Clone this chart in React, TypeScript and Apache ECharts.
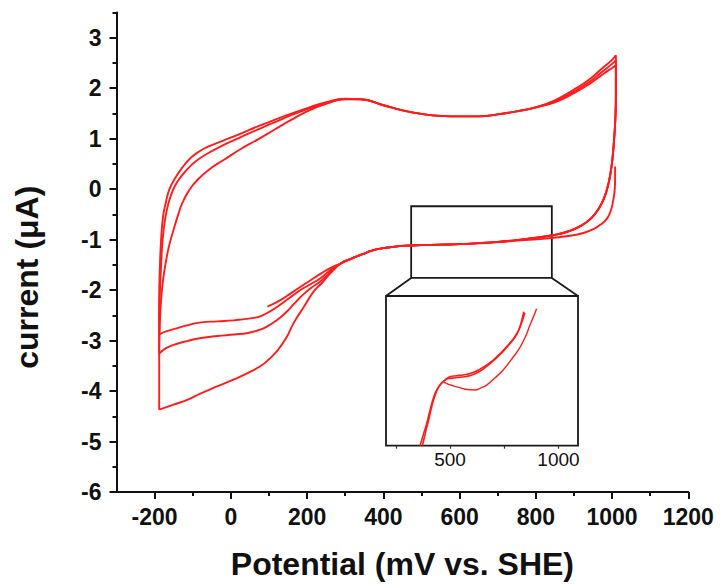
import React, { useEffect, useRef } from 'react';
import * as echarts from 'echarts';

// ---------- tick values ----------
const xMajorTicks = [-200, 0, 200, 400, 600, 800, 1000, 1200];
const xMinorTicks = [-100, 100, 300, 500, 700, 900, 1100];
const yMajorTicks = [-6, -5, -4, -3, -2, -1, 0, 1, 2, 3];
const yMinorTicks = [-5.5, -4.5, -3.5, -2.5, -1.5, -0.5, 0.5, 1.5, 2.5, 3.5];
const insetTicks = [250, 500, 750, 1000];
const insetLabels = [500, 1000];

// ---------- CV branches [potential mV, current uA] ----------
// first cathodic sweep start (from upper vertex, inner curve)
const innerDescent = [
  [1008, 0.45], [1008, 0.2], [1007, -0.01], [1003, -0.22], [997, -0.42], [987, -0.58],
  [972, -0.69], [952, -0.79], [925, -0.87], [885, -0.93], [838, -0.97], [794, -1.0],
  [750, -1.02], [707, -1.05], [650, -1.075], [600, -1.09], [550, -1.1], [500, -1.11], [460, -1.12],
];
// later cathodic sweeps (outer curve at right)
const outerDescent = [
  [1010, 1.8], [1008, 1.3], [1005, 0.95], [1001, 0.6], [996, 0.32], [989, 0.06], [979, -0.18],
  [964, -0.4], [945, -0.58], [918, -0.73], [884, -0.84], [840, -0.92], [794, -0.97],
  [750, -1.01], [707, -1.04], [650, -1.07], [600, -1.09], [550, -1.1], [500, -1.11], [460, -1.12],
];
const lowerMid = [[430, -1.14], [400, -1.17], [370, -1.22], [342, -1.3], [315, -1.38], [289, -1.47]];
const lowerD = [
  [289, -1.47], [262, -1.66], [240, -1.85], [218, -2.02], [190, -2.35], [165, -2.65], [145, -2.95],
  [122, -3.2], [100, -3.37], [79, -3.5], [45, -3.64], [8, -3.77], [-40, -3.92], [-80, -4.05],
  [-113, -4.17], [-150, -4.27], [-188, -4.37],
];
const lowerC = [
  [289, -1.47], [262, -1.64], [236, -1.82], [210, -1.96], [188, -2.1], [166, -2.27], [145, -2.44],
  [122, -2.59], [100, -2.7], [79, -2.78], [45, -2.85], [9, -2.88], [-35, -2.91], [-78, -2.95],
  [-115, -3.01], [-148, -3.08], [-170, -3.15], [-188, -3.26],
];
const lowerB = [
  [289, -1.47], [262, -1.6], [236, -1.76], [210, -1.88], [184, -1.99], [160, -2.12], [140, -2.23],
  [118, -2.35], [96, -2.45], [80, -2.51], [61, -2.55], [30, -2.58], [8, -2.6], [-35, -2.62],
  [-78, -2.64], [-115, -2.7], [-148, -2.77], [-170, -2.82], [-188, -2.88],
];
const lowerA = [
  [289, -1.47], [262, -1.56], [237, -1.67], [210, -1.8], [184, -1.93], [160, -2.05], [130, -2.2], [96, -2.33],
];
// anodic sweeps
const upperLeft1 = [
  [-188, -4.37], [-188, -3.3], [-186, -2.6], [-182, -2.1], [-176, -1.7], [-170, -1.42], [-162, -1.12],
  [-152, -0.85], [-140, -0.55], [-127, -0.27], [-110, -0.03], [-88, 0.18], [-55, 0.4], [-18, 0.58],
  [25, 0.79], [70, 0.98], [115, 1.18], [158, 1.37], [200, 1.54], [250, 1.69], [300, 1.78],
];
const upperLeft2 = [
  [-188, -3.26], [-188, -2.5], [-186, -2.0], [-183, -1.5], [-179, -1.0], [-173, -0.62], [-165, -0.32],
  [-154, -0.06], [-140, 0.15], [-118, 0.36], [-92, 0.55], [-60, 0.71], [-20, 0.87], [26, 1.03],
  [70, 1.18], [114, 1.32], [160, 1.47], [210, 1.61], [250, 1.7], [300, 1.785],
];
const upperLeft3 = [
  [-188, -2.88], [-188, -2.2], [-186, -1.5], [-183, -1.0], [-178, -0.55], [-171, -0.28], [-162, -0.02],
  [-149, 0.18], [-128, 0.42], [-105, 0.62], [-80, 0.76], [-60, 0.84], [-20, 0.96], [26, 1.1],
  [70, 1.24], [114, 1.37], [160, 1.5], [210, 1.63], [250, 1.72], [300, 1.79],
];
const upperMid = [
  [340, 1.78], [400, 1.66], [450, 1.56], [500, 1.49], [550, 1.45], [600, 1.44], [650, 1.44],
  [700, 1.48], [750, 1.54], [800, 1.62],
];
const upperTop1 = [[850, 1.72], [900, 1.9], [940, 2.08], [975, 2.27], [1000, 2.4], [1010, 2.45]];
const upperTop2 = [[850, 1.74], [900, 1.93], [940, 2.12], [975, 2.33], [1000, 2.48], [1010, 2.55]];
const upperTop3 = [[850, 1.76], [900, 1.97], [940, 2.17], [975, 2.4], [1000, 2.56], [1010, 2.65]];

// zoomed region marked in the main plot
const zoomBoxX = [473, 842];
const zoomBoxY = [-1.76, -0.34];

// ---------- inset (magnified) ----------
const insetMain = [
  [362, -1.3], [380, -1.265], [393, -1.24], [405, -1.212], [416, -1.187], [428, -1.165], [439, -1.151],
  [455, -1.137], [469, -1.129], [485, -1.122], [500, -1.12], [520, -1.119], [546, -1.117], [575, -1.115],
  [607, -1.11], [640, -1.1], [669, -1.088], [700, -1.073], [730, -1.057], [760, -1.038], [791, -1.017],
  [810, -1.0], [822, -0.982], [832, -0.962], [840, -0.942],
];
const insetMain2 = [
  [373, -1.3], [388, -1.262], [400, -1.235], [412, -1.205], [424, -1.178], [436, -1.158], [448, -1.143],
  [462, -1.132], [478, -1.124], [500, -1.116], [530, -1.113], [560, -1.111], [600, -1.106], [640, -1.095],
  [680, -1.08], [720, -1.06], [760, -1.036], [795, -1.012], [815, -0.993], [830, -0.972], [845, -0.945],
];
const insetLower = [
  [469, -1.129], [485, -1.134], [515, -1.14], [546, -1.145], [580, -1.15], [615, -1.151], [640, -1.146],
  [669, -1.138], [705, -1.12], [746, -1.097], [785, -1.068], [822, -1.038], [848, -1.008], [868, -0.979],
  [885, -0.955], [899, -0.934],
];

const RED = '#ff1c1c';
const FONT = '"Liberation Sans", Arial, Helvetica, sans-serif';

export default function App() {
  const ref = useRef<HTMLDivElement>(null);

  useEffect(() => {
    if (!ref.current) return;
    const chart = echarts.init(ref.current, undefined, { renderer: 'svg' });

    const lastOf = (a: number[][]) => a[a.length - 1];
    const paths = [
      [...innerDescent, ...lowerMid, ...lowerD.slice(1)],
      [...upperLeft1, ...upperMid, ...upperTop1],
      [lastOf(upperTop1), ...outerDescent, ...lowerMid, ...lowerC.slice(1)],
      [...upperLeft2, ...upperMid, ...upperTop2],
      [lastOf(upperTop2), ...outerDescent, ...lowerMid, ...lowerB.slice(1)],
      [...upperLeft3, ...upperMid, ...upperTop3],
      [lastOf(upperTop3), ...outerDescent, ...lowerMid, ...lowerA.slice(1)],
    ];

    const mainSeries: any[] = paths.map((d, i) => ({
      type: 'line',
      xAxisIndex: 0,
      yAxisIndex: 0,
      data: d,
      showSymbol: false,
      smooth: 0.5,
      lineStyle: { color: RED, width: 1.9 },
      silent: true,
      z: 3,
      ...(i === 0
        ? {
            markArea: {
              silent: true,
              itemStyle: { color: 'rgba(0,0,0,0)', borderColor: '#1a1a1a', borderWidth: 1.8 },
              label: { show: false },
              data: [[{ coord: [zoomBoxX[0], zoomBoxY[1]] }, { coord: [zoomBoxX[1], zoomBoxY[0]] }]],
            },
          }
        : {}),
    }));

    const insetSeries = [insetMain, insetMain2, insetLower].map((d, i) => ({
      type: 'line',
      xAxisIndex: 2,
      yAxisIndex: 2,
      data: d,
      showSymbol: false,
      smooth: 0.5,
      lineStyle: { color: RED, width: i === 2 ? 1.4 : 1.6 },
      silent: true,
    }));

    const axisCommon = {
      type: 'value',
      splitLine: { show: false },
    };

    chart.setOption({
      animation: false,
      backgroundColor: '#ffffff',
      grid: [
        { left: 116.5, top: 12.4, width: 571.8, height: 479.9, containLabel: false },
        {
          left: 386, top: 296, width: 192, height: 149.7, show: true,
          borderColor: '#1a1a1a', borderWidth: 1.8, backgroundColor: 'rgba(0,0,0,0)',
        },
      ],
      xAxis: [
        {
          ...axisCommon,
          gridIndex: 0,
          position: 'bottom',
          min: -300,
          max: 1200,
          axisLine: { onZero: false, lineStyle: { color: '#111', width: 2 } },
          axisTick: { customValues: xMajorTicks, length: 7, lineStyle: { color: '#111', width: 2 } },
          axisLabel: {
            customValues: xMajorTicks,
            formatter: (v: number) => String(v),
            fontSize: 23, fontWeight: 'bold', color: '#111', fontFamily: FONT, margin: 13,
          },
          name: 'Potential (mV vs. SHE)',
          nameLocation: 'middle',
          nameGap: 56,
          nameTextStyle: { fontSize: 32, fontWeight: 'bold', color: '#111', fontFamily: FONT },
        },
        {
          ...axisCommon,
          gridIndex: 0,
          position: 'bottom',
          offset: 0,
          min: -300,
          max: 1200,
          axisLine: { show: false, onZero: false },
          axisTick: { customValues: xMinorTicks, length: 4, lineStyle: { color: '#111', width: 2 } },
          axisLabel: { show: false },
        },
        {
          ...axisCommon,
          gridIndex: 1,
          position: 'bottom',
          min: 205,
          max: 1090,
          axisLine: { show: false, onZero: false },
          axisTick: { customValues: insetTicks, length: 3, lineStyle: { color: '#333', width: 1.2 } },
          axisLabel: {
            customValues: insetLabels,
            formatter: (v: number) => String(v),
            fontSize: 19, color: '#111', fontFamily: FONT, margin: 4,
          },
        },
      ],
      yAxis: [
        {
          ...axisCommon,
          gridIndex: 0,
          position: 'left',
          min: -6,
          max: 3.5,
          axisLine: { onZero: false, lineStyle: { color: '#111', width: 2 } },
          axisTick: { customValues: yMajorTicks, length: 7, lineStyle: { color: '#111', width: 2 } },
          axisLabel: {
            customValues: yMajorTicks,
            formatter: (v: number) => String(v),
            fontSize: 23, fontWeight: 'bold', color: '#111', fontFamily: FONT, margin: 15,
          },
          name: 'current (\u03bcA)',
          nameLocation: 'middle',
          nameGap: 74,
          nameTextStyle: {
            fontSize: 32, fontWeight: 'bold', color: '#111', fontFamily: FONT,
            padding: [0, 50, 0, 0],
          },
        },
        {
          ...axisCommon,
          gridIndex: 0,
          position: 'left',
          offset: 0,
          min: -6,
          max: 3.5,
          axisLine: { show: false, onZero: false },
          axisTick: { customValues: yMinorTicks, length: 4, lineStyle: { color: '#111', width: 2 } },
          axisLabel: { show: false },
        },
        {
          ...axisCommon,
          gridIndex: 1,
          min: -1.3,
          max: -0.9,
          show: false,
        },
      ],
      series: [...mainSeries, ...insetSeries],
    });

    // connectors from the marked region to the inset frame
    const a = chart.convertToPixel({ xAxisIndex: 0, yAxisIndex: 0 }, [zoomBoxX[0], zoomBoxY[0]]) as number[];
    const b = chart.convertToPixel({ xAxisIndex: 0, yAxisIndex: 0 }, [zoomBoxX[1], zoomBoxY[0]]) as number[];
    const c = chart.convertToPixel({ xAxisIndex: 2, yAxisIndex: 2 }, [205, -0.9]) as number[];
    const d = chart.convertToPixel({ xAxisIndex: 2, yAxisIndex: 2 }, [1090, -0.9]) as number[];
    chart.setOption({
      graphic: [
        { type: 'line', shape: { x1: a[0], y1: a[1], x2: c[0], y2: c[1] }, style: { stroke: '#1a1a1a', lineWidth: 1.8 }, silent: true },
        { type: 'line', shape: { x1: b[0], y1: b[1], x2: d[0], y2: d[1] }, style: { stroke: '#1a1a1a', lineWidth: 1.8 }, silent: true },
      ],
    });

    return () => chart.dispose();
  }, []);

  return (
    <div
      ref={ref}
      style={{ position: 'fixed', left: 0, top: 0, width: 721, height: 585, background: '#fff' }}
    />
  );
}
